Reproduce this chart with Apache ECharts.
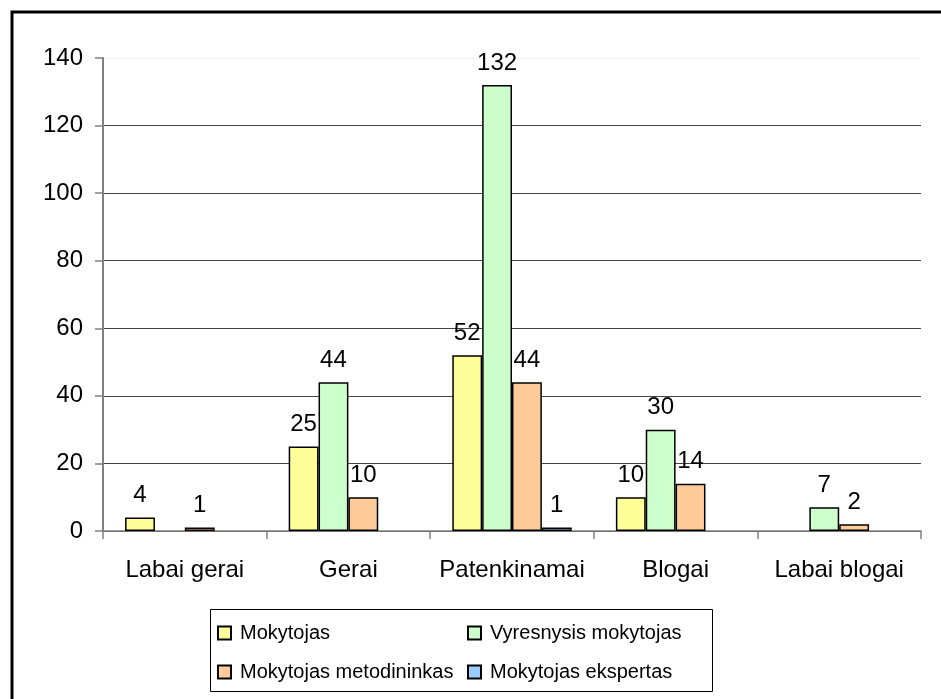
<!DOCTYPE html>
<html>
<head>
<meta charset="utf-8">
<script src="https://cdn.jsdelivr.net/npm/echarts@6/dist/echarts.min.js"></script>
<style>
  html, body { margin: 0; padding: 0; background: #fff; }
  #main { width: 941px; height: 699px; }
</style>
</head>
<body>
<div id="main"></div>
<script>
  // categories and values
  var categories = ['Labai gerai', 'Gerai', 'Patenkinamai', 'Blogai', 'Labai blogai']
  var mokytojas = [4, 25, 52, 10, 0]
  var vyresnysis = [0, 44, 132, 30, 7]
  var metodininkas = [1, 10, 44, 14, 2]
  var ekspertas = [0, 0, 1, 0, 0]
  var seriesNames = ['Mokytojas', 'Vyresnysis mokytojas', 'Mokytojas metodininkas', 'Mokytojas ekspertas']
  var seriesColors = ['#FFFF99', '#CCFFCC', '#FFCC99', '#99CCFF']

  var font = '"Liberation Sans", Arial, sans-serif'
  var myChart = echarts.init(document.getElementById('main'))

  function makeBar(i, data) {
    return {
      name: seriesNames[i],
      type: 'bar',
      // zero values have no visible bar in the original
      data: data.map(function (v) {
        return v === 0 ? { value: v, itemStyle: { borderWidth: 0 } } : v
      }),
      barGap: '0%',
      barCategoryGap: '27%',
      itemStyle: { color: seriesColors[i], borderColor: '#000', borderWidth: 1.5 },
      label: {
        show: true,
        position: 'top',
        distance: 10,
        fontFamily: font,
        fontSize: 24,
        color: '#000',
        formatter: function (p) { return p.value ? p.value : '' }
      }
    }
  }

  // one legend per entry so the two columns line up like the original
  var legendPos = [[217, 621], [467, 621], [217, 660], [467, 660]]
  var legends = seriesNames.map(function (n, i) {
    return {
      left: legendPos[i][0],
      top: legendPos[i][1],
      padding: 0,
      icon: 'rect',
      itemWidth: 13,
      itemHeight: 13,
      textStyle: { fontFamily: font, fontSize: 20, color: '#000', lineHeight: 24, padding: [0, 0, 0, 4] },
      data: [n]
    }
  })

  var option = {
    animation: false,
    backgroundColor: '#fff',
    textStyle: { fontFamily: font },
    graphic: [{
      type: 'rect',
      shape: { x: 12, y: 12, width: 950, height: 720 },
      style: { fill: 'none', stroke: '#000', lineWidth: 3 }
    }, {
      type: 'rect',
      shape: { x: 210.5, y: 609.5, width: 502, height: 82 },
      style: { fill: 'none', stroke: '#000', lineWidth: 1 }
    }],
    grid: { left: 103, right: 20, top: 58, bottom: 168 },
    legend: legends,
    xAxis: {
      type: 'category',
      data: categories,
      axisLine: { lineStyle: { color: '#808080', width: 1.5 } },
      axisTick: { show: true, length: 8, lineStyle: { color: '#808080', width: 1.5 } },
      axisLabel: { interval: 0, fontFamily: font, fontSize: 24, color: '#000', margin: 27 }
    },
    yAxis: {
      type: 'value',
      min: 0,
      max: 140,
      interval: 20,
      axisLine: { show: true, lineStyle: { color: '#808080', width: 2 } },
      axisTick: { show: true, length: 8, lineStyle: { color: '#808080', width: 1.5 } },
      axisLabel: { fontFamily: font, fontSize: 24, color: '#000', margin: 20 },
      splitLine: {
        show: true,
        lineStyle: { color: ['#444', '#444', '#444', '#444', '#444', '#444', '#444', '#f2f2f2'], width: 1 }
      }
    },
    series: [
      makeBar(0, mokytojas),
      makeBar(1, vyresnysis),
      makeBar(2, metodininkas),
      makeBar(3, ekspertas)
    ]
  }

  myChart.setOption(option)
  window.addEventListener('resize', function () {
    myChart.resize()
  })
</script>
</body>
</html>
